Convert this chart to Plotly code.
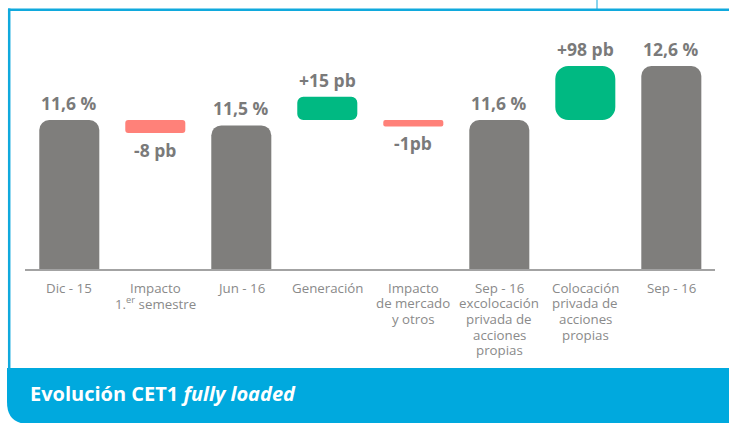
import plotly.graph_objects as go

# ---------------- data ----------------
categories = [
    "Dic - 15",
    "Impacto<br>1.<sup>er</sup> semestre",
    "Jun - 16",
    "Generación",
    "Impacto<br>de mercado<br>y otros",
    "Sep - 16<br>excolocación<br>privada de<br>acciones<br>propias",
    "Colocación<br>privada de<br>acciones<br>propias",
    "Sep - 16",
]
total_idx = [0, 2, 5, 7]
total_values = [11.6, 11.5, 11.6, 12.6]          # CET1 %
total_labels = ["11,6 %", "11,5 %", "11,6 %", "12,6 %"]

delta_idx = [1, 3, 4, 6]
delta_pb = [-8, 15, -1, 98]                       # basis points (labels)
delta_labels = ["-8 pb", "+15 pb", "-1pb", "+98 pb"]
# bar extents as drawn in the picture (in % units on the chart axis)
delta_base = [11.6, 11.6, 11.6, 11.6]
delta_drawn = [-0.24, 0.43, -0.12, 1.0]

title_text = "Evolución CET1 <i>fully loaded</i>"

# ---------------- style ----------------
W, H = 729, 423
ML, MR, MT, MB = 25, 14, 20, 154
GRAY = "#7f7e7c"
RED = "#ff8179"
GREEN = "#00b982"
BLUE = "#10a9dd"
LBL = "#7a7a7a"
CAT = "#8a8a8a"
BAR_W = 0.698
delta_radius = [3, 6, 2, 13]
LINE_PITCH = 15.7

fig = go.Figure()

fig.add_trace(go.Bar(
    x=[categories[i] for i in total_idx], y=total_values,
    width=BAR_W, marker=dict(color=GRAY, cornerradius=10, line=dict(width=0)),
    hoverinfo="skip", showlegend=False,
))
for k, i in enumerate(delta_idx):
    fig.add_trace(go.Bar(
        x=[categories[i]], y=[delta_drawn[k]], base=[delta_base[k]],
        width=BAR_W,
        marker=dict(color=GREEN if delta_pb[k] > 0 else RED,
                    cornerradius=delta_radius[k], line=dict(width=0)),
        hoverinfo="skip", showlegend=False,
    ))

pw = W - ML - MR
ph = H - MT - MB
def px(x):
    return (x - ML) / pw
def py(y):
    return (H - MB - y) / ph

annotations = []
for k, i in enumerate(total_idx):
    annotations.append(dict(
        x=categories[i], y=total_values[k], xref="x", yref="y",
        text=total_labels[k], showarrow=False, yanchor="middle", yshift=17,
        font=dict(family="Open Sans", size=17.5, color=LBL, weight="bold"),
    ))
for k, i in enumerate(delta_idx):
    end = delta_base[k] + delta_drawn[k]
    annotations.append(dict(
        x=categories[i], y=end, xref="x", yref="y",
        text=delta_labels[k], showarrow=False, yanchor="middle",
        yshift=17 if delta_drawn[k] > 0 else -17,
        font=dict(family="Open Sans", size=17.5, color=LBL, weight="bold"),
    ))
for c in categories:
    for j, line in enumerate(c.split("<br>")):
        annotations.append(dict(
            x=c, y=py(287.5 + LINE_PITCH * j), xref="x", yref="paper",
            text=line, showarrow=False, yanchor="middle", align="center",
            font=dict(family="Open Sans", size=13.3, color=CAT),
        ))

annotations.append(dict(
    x=px(28), y=py(393), xref="paper", yref="paper", xanchor="left",
    yanchor="middle", text=title_text, showarrow=False,
    font=dict(family="Open Sans", size=20, color="white", weight="bold"),
))

r = 22
banner_path = (
    f"M {px(7)},{py(368)} L {px(730)},{py(368)} L {px(730)},{py(424)} "
    f"L {px(7 + r)},{py(424)} Q {px(7)},{py(424)} {px(7)},{py(424 - r)} Z"
)
shapes = [
    dict(type="path", xref="paper", yref="paper", path=banner_path,
         fillcolor="#00a9de", line=dict(width=0), layer="below"),
    dict(type="line", xref="paper", yref="paper", x0=px(9.2), x1=px(9.2),
         y0=py(8.5), y1=py(370), line=dict(color=BLUE, width=2.5)),
    dict(type="line", xref="paper", yref="paper", x0=px(8), x1=px(730),
         y0=py(9.8), y1=py(9.8), line=dict(color=BLUE, width=2.5)),
    dict(type="line", xref="paper", yref="paper", x0=px(597), x1=px(597),
         y0=py(0), y1=py(9), line=dict(color=BLUE, width=1)),
]

fig.update_layout(
    width=W, height=H,
    margin=dict(l=ML, r=MR, t=MT, b=MB, pad=0),
    paper_bgcolor="white", plot_bgcolor="white",
    barmode="overlay",
    xaxis=dict(type="category", categoryorder="array", categoryarray=categories,
               range=[-0.515, 7.508], showticklabels=False, ticks="",
               showgrid=False, zeroline=False, showline=True,
               linecolor="#a3a3a3", linewidth=2, fixedrange=True),
    yaxis=dict(range=[8.841, 8.841 + ph / 54.0], visible=False,
               showgrid=False, zeroline=False, fixedrange=True),
    annotations=annotations, shapes=shapes,
)

fig.write_html(
    "out.html",
    config={"displayModeBar": False},
    post_script="document.body.style.margin='0';document.body.style.overflow='hidden';",
)
